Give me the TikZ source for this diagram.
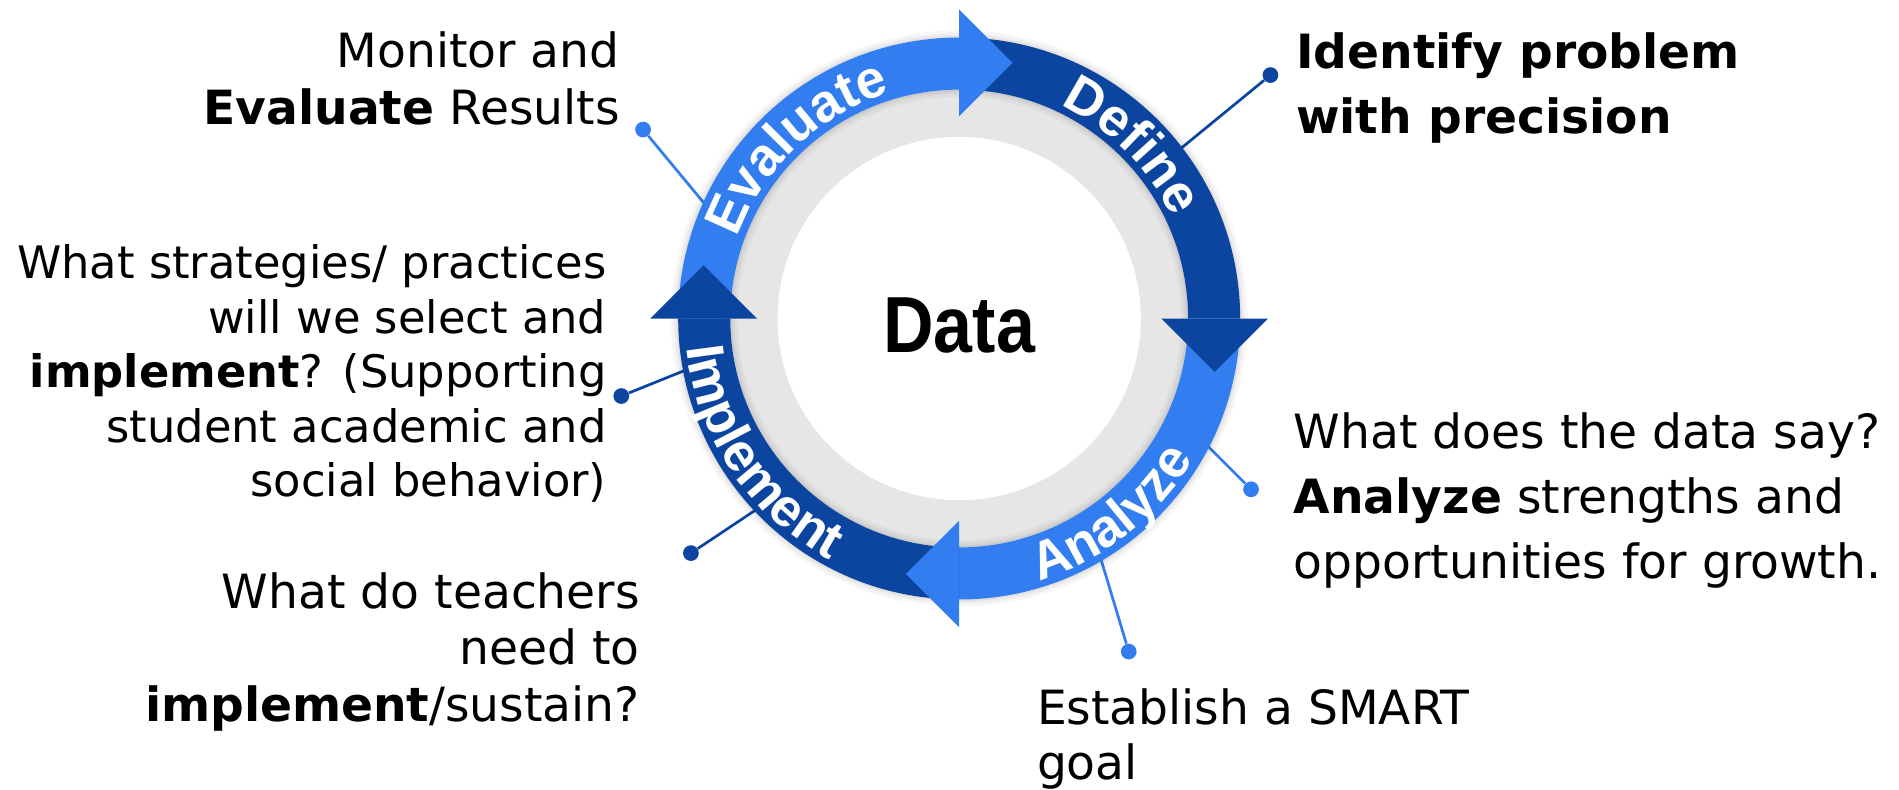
\documentclass[tikz,border=0pt]{standalone}
\usepackage{fontspec}
\setmainfont{DejaVu Sans}
\newfontfamily\ringfont{Liberation Sans}
\newfontfamily\datafont[FakeStretch=0.88]{Liberation Sans}
\usepackage{xcolor}
\usepackage{tikz}
\usetikzlibrary{positioning}
\usetikzlibrary{calc}
\usetikzlibrary{decorations.text}
\definecolor{lightblue}{RGB}{50,125,240}
\definecolor{darkblue}{RGB}{12,69,160}
\definecolor{ringgrey}{RGB}{230,230,230}
\newcommand{\bandfont}{\ringfont\bfseries\fontsize{31.3}{36}\selectfont}
\tikzstyle{dot}=[circle,inner sep=0pt,minimum size=3.25mm]
\tikzstyle{link} = [draw,line width=1.6pt]
\tikzset{note/.style={inner sep=0pt,font=\fontsize{27.7}{#1}\selectfont}}
\tikzset{smallnote/.style={inner sep=0pt,font=\fontsize{26.3}{#1}\selectfont}}
\tikzset{ringtext/.style={decorate,decoration={text along path,text align=center,text color=white,text={|\bandfont|#1}}}}

\begin{document}
\begin{tikzpicture}[x=0.25mm,y=0.25mm]

 \useasboundingbox (-792,-388.5) rectangle (776,263);

 %dots
 \foreach \name/\x/\y/\col in {eva/-261/156/lightblue, def/257/201/darkblue, imp/-279/-64/darkblue, tea/-221.5/-193.7/darkblue, ana/241/-141/lightblue, sma/140/-275/lightblue}
    \node[dot,fill=\col] (\name) at (\x,\y) {};

 \foreach \name/\x/\y in {eva/-203.4/86.5, def/173.4/132.5, imp/-218/-39.4, tea/-160/-152.7, ana/196.4/-96.4, sma/113.7/-187.6}
    \coordinate (\name end) at (\x,\y);

 \foreach \name/\col in {eva/lightblue, def/darkblue, imp/darkblue, tea/darkblue, ana/lightblue, sma/lightblue}
    \path[link,\col] (\name) -- (\name end);

 %ring
 \fill[ringgrey] (0,0) circle (189);
 \fill[white] (0,0) circle (150);
 \foreach \w/\o in {12/0.03, 7/0.04, 3/0.05}
 {
    \draw[black,opacity=\o,line width=\w*0.25mm] (0,0) circle (232);
    \draw[black,opacity=\o,line width=\w*0.25mm] (0,0) circle (189);
 }

 \foreach \a/\col in {180/lightblue, 90/darkblue, 0/lightblue, -90/darkblue}
    \fill[\col] (\a:232) arc[start angle=\a, end angle=\a-90, radius=232] -- ({\a-90}:189) arc[start angle=\a-90, end angle=\a, radius=189] -- cycle;

 %heads
 \foreach \a/\col in {90/lightblue, 0/darkblue, -90/lightblue, 180/darkblue}
    \fill[\col] (\a:255) -- (\a:167) -- ($(\a:211)+({\a-90}:44)$) -- cycle;

 \path[ringtext=Evaluate] (178.5:195) arc[start angle=178.5, end angle=88.5, radius=195];
 \path[ringtext=Define] (90:195) arc[start angle=90, end angle=0, radius=195];
 \path[ringtext=Analyze] (-97:226) arc[start angle=-97, end angle=-7, radius=226];
 \path[ringtext=Implement] (170:226) arc[start angle=170, end angle=258, radius=226];

 \node[font=\datafont\bfseries\fontsize{46.7}{50}\selectfont] (data) at (0,-5.5) {Data};

 %texts (base = last line)
 \node[note=33.4pt,anchor=base east,align=right] (monitor) at (-280,160) {Monitor and\\\textbf{Evaluate} Results};
 \node[smallnote=32pt,anchor=base east,align=right] (strategies) at (-291,-147) {What strategies/ practices\\will we select and\\\textbf{implement}? (Supporting\\student academic and\\social behavior)};
 \node[note=33.4pt,anchor=base east,align=right] (teachers) at (-263.4,-333) {What do teachers\\need to\\\textbf{implement}/sustain?};
 \node[note=38.2pt,anchor=base west,align=left] (identify) at (278,152.5) {\textbf{Identify problem}\\\textbf{with precision}};
 \node[note=38.4pt,anchor=base west,align=left] (datasay) at (276,-215) {What does the data say?\\\textbf{Analyze} strengths and\\opportunities for growth.};
 \node[note=32.5pt,anchor=base west,align=left] (smart) at (64,-381) {Establish a SMART\\goal};

\end{tikzpicture}
\end{document}
